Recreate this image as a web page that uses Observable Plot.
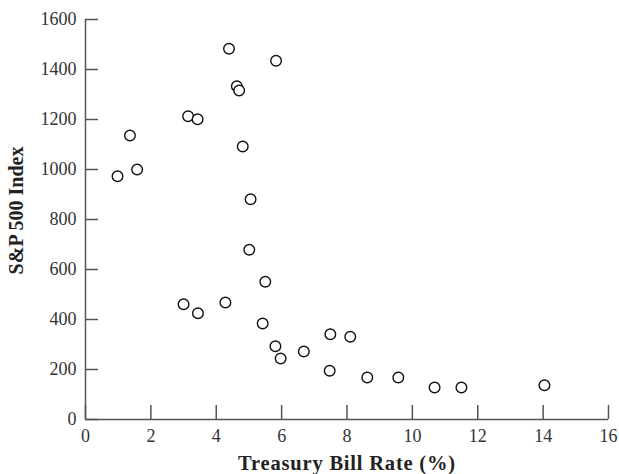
<!DOCTYPE html>
<html>
<head>
<meta charset="utf-8">
<script src="https://cdn.jsdelivr.net/npm/d3@7"></script>
<script src="https://cdn.jsdelivr.net/npm/@observablehq/plot@0.6"></script>
<style>
  html, body { margin: 0; padding: 0; background: #fff; }
</style>
</head>
<body>
<div id="chart"></div>
<script>
const tBillRate = [4.39, 5.83, 4.63, 4.70, 3.14, 3.43, 1.36, 4.81, 1.58, 0.98, 5.05, 5.01, 5.50, 3.00,
                   4.28, 3.44, 5.42, 5.81, 5.97, 6.68, 7.49, 8.10, 7.47, 8.62, 9.57, 10.68, 11.50, 14.04];
const spIndex = [1483, 1435, 1333, 1316, 1213, 1201, 1136, 1092, 1000, 973, 881, 679, 551, 461,
                 468, 425, 384, 293, 244, 272, 341, 331, 195, 168, 168, 128, 128, 137];
const xTicks = [0, 2, 4, 6, 8, 10, 12, 14, 16];
const yTicks = [0, 200, 400, 600, 800, 1000, 1200, 1400, 1600];
const xLabel = "Treasury Bill Rate (%)";
const yLabel = "S&P 500 Index";

const data = tBillRate.map((x, i) => ({x, y: spIndex[i]}));

const W = 619, H = 474, mL = 85, mR = 11, mT = 19, mB = 55;
const frameW = W - mL - mR, frameH = H - mT - mB;
const axisColor = "#555";

const chart = Plot.plot({
  width: W,
  height: H,
  marginLeft: mL,
  marginRight: mR,
  marginTop: mT,
  marginBottom: mB,
  style: {fontFamily: "'Liberation Serif', serif", fontSize: "18px", color: "#222", background: "#fff"},
  x: {domain: [0, 16]},
  y: {domain: [0, 1600]},
  marks: [
    Plot.axisX({ticks: xTicks, tickSize: 0, tickPadding: 10, label: null, fill: "#333", fontSize: 18, tickFormat: d3.format("d")}),
    Plot.axisY({ticks: yTicks, tickSize: 0, tickPadding: 9, label: null, fill: "#333", fontSize: 18, tickFormat: d3.format("d")}),
    Plot.ruleY(yTicks, {stroke: axisColor, strokeWidth: 1.5, insetRight: frameW - 13}),
    Plot.ruleX(xTicks, {stroke: axisColor, strokeWidth: 1.5, insetTop: frameH - 14}),
    Plot.ruleY([0], {stroke: axisColor, strokeWidth: 1.5}),
    Plot.ruleX([0], {stroke: axisColor, strokeWidth: 1.5}),
    Plot.dot(data, {x: "x", y: "y", r: 5.3, stroke: "#111", strokeWidth: 1.4, fill: "white"}),
    Plot.text([xLabel], {frameAnchor: "bottom", dy: 44, fontWeight: "bold", fontSize: 20.5, fill: "#222", textAnchor: "middle", lineAnchor: "middle", className: "xlabel"}),
    Plot.text([yLabel], {frameAnchor: "left", dx: -69, dy: -9, rotate: -90, fontWeight: "bold", fontSize: 20, fill: "#222", textAnchor: "middle", lineAnchor: "middle"})
  ]
});
d3.select(chart).selectAll(".xlabel text").attr("letter-spacing", "0.8px");
document.getElementById("chart").appendChild(chart);
</script>
</body>
</html>
